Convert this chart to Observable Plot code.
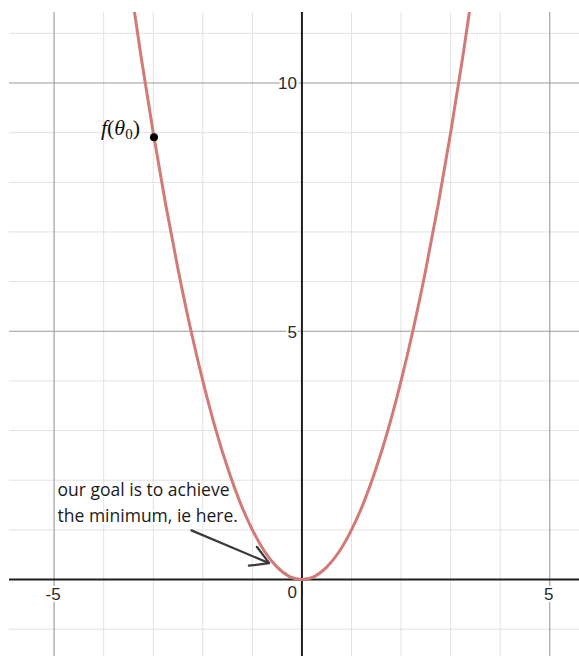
<!DOCTYPE html>
<html>
<head>
<meta charset="utf-8">
<script src="https://cdn.jsdelivr.net/npm/d3@7"></script>
<script src="https://cdn.jsdelivr.net/npm/@observablehq/plot@0.6"></script>
<style>
  html, body { margin: 0; padding: 0; background: #fff; }
  #chart svg { display: block; }
</style>
</head>
<body>
<div id="chart"></div>
<script>
// Cost curve f(theta) = theta^2, sampled points
const curveX = [-3.5, -3.25, -3, -2.75, -2.5, -2.25, -2, -1.75, -1.5, -1.25, -1, -0.75, -0.5, -0.25,
                0, 0.25, 0.5, 0.75, 1, 1.25, 1.5, 1.75, 2, 2.25, 2.5, 2.75, 3, 3.25, 3.5];
const curveY = [12.25, 10.56, 9, 7.56, 6.25, 5.06, 4, 3.06, 2.25, 1.56, 1, 0.56, 0.25, 0.06,
                0, 0.06, 0.25, 0.56, 1, 1.56, 2.25, 3.06, 4, 5.06, 6.25, 7.56, 9, 10.56, 12.25];

// Starting point theta_0 and its value
const startX = [-2.985];
const startY = [8.91];
const startLabel = ["f(θ₀)"];

// Grid lines
const minorX = [-5, -4, -3, -2, -1, 1, 2, 3, 4, 5];
const minorY = [-1, 1, 2, 3, 4, 6, 7, 8, 9, 11];
const majorX = [-5, 5];
const majorY = [5, 10];

// Tick labels
const xTickValues = [-5, 5];
const xTickLabels = ["-5", "5"];
const yTickValues = [5, 10];
const yTickLabels = ["5", "10"];
const originLabel = ["0"];

// Annotation text and its arrow
const noteLines = ["our goal is to achieve", "the minimum, ie here."];
const noteX = [-4.93, -4.93];
const noteY = [1.8, 1.28];
const arrowFrom = {x: -2.23, y: 0.99};
const arrowTo = {x: -0.66, y: 0.33};

const curve = curveX.map((x, i) => ({x, y: curveY[i]}));
const labelFont = "Liberation Sans, Arial, sans-serif";

const chart = Plot.plot({
  width: 579,
  height: 656,
  marginLeft: 9,
  marginTop: 12,
  marginRight: 0,
  marginBottom: 0,
  x: {domain: [-5.9, 5.6], axis: null},
  y: {domain: [-1.55, 11.42], axis: null},
  style: {background: "white", overflow: "visible"},
  marks: [
    Plot.ruleX(minorX, {stroke: "#e2e2e2", strokeWidth: 1}),
    Plot.ruleY(minorY, {stroke: "#e2e2e2", strokeWidth: 1}),
    Plot.ruleX(majorX, {stroke: "#9a9a9a", strokeWidth: 1}),
    Plot.ruleY(majorY, {stroke: "#9a9a9a", strokeWidth: 1}),
    Plot.ruleX([0], {stroke: "#1e1e1e", strokeWidth: 2}),
    Plot.ruleY([0], {stroke: "#1e1e1e", strokeWidth: 2}),
    Plot.line(curve, {x: "x", y: "y", curve: "natural", stroke: "#d27a76", strokeWidth: 3, clip: true}),
    // tick labels with white halo
    Plot.text(yTickValues, {
      x: () => 0, y: d => d, text: (d, i) => yTickLabels[i],
      textAnchor: "end", dx: -5, dy: 1,
      fontSize: 17, fontFamily: labelFont, fill: "#2a2a2a",
      stroke: "white", strokeWidth: 4
    }),
    Plot.text(xTickValues, {
      x: d => d, y: () => 0, text: (d, i) => xTickLabels[i],
      textAnchor: "middle", dx: -1, dy: 15,
      fontSize: 17, fontFamily: labelFont, fill: "#2a2a2a",
      stroke: "white", strokeWidth: 4
    }),
    Plot.text(originLabel, {
      x: () => 0, y: () => 0, text: d => d,
      textAnchor: "end", dx: -5, dy: 13,
      fontSize: 17, fontFamily: labelFont, fill: "#2a2a2a",
      stroke: "white", strokeWidth: 4
    }),
    // annotation
    Plot.text(noteLines, {
      x: (d, i) => noteX[i], y: (d, i) => noteY[i], text: d => d,
      textAnchor: "start", fontSize: 17.5, fontFamily: "Open Sans, sans-serif",
      fill: "#1a1a1a", stroke: "white", strokeWidth: 3
    }),
    Plot.arrow([arrowFrom], {
      x1: d => d.x, y1: d => d.y, x2: () => arrowTo.x, y2: () => arrowTo.y,
      stroke: "#3a3a3a", strokeWidth: 2.2, headLength: 14
    }),
    // starting point and its label
    Plot.dot(startX, {x: d => d, y: (d, i) => startY[i], r: 4, fill: "black", stroke: "none"}),
    Plot.text(startX, {
      x: d => d, y: (d, i) => startY[i], text: (d, i) => startLabel[i],
      textAnchor: "end", dx: -14, dy: -9,
      fontSize: 22, fontFamily: "Liberation Serif, serif", fill: "#111",
      className: "theta-label"
    })
  ]
});

// Typeset the f(θ₀) label with italic symbols and a subscript
const lbl = chart.querySelector(".theta-label text");
if (lbl) {
  lbl.textContent = "";
  const ns = "http://www.w3.org/2000/svg";
  const part = (txt, attrs) => {
    const t = document.createElementNS(ns, "tspan");
    t.textContent = txt;
    for (const k in attrs) t.setAttribute(k, attrs[k]);
    lbl.appendChild(t);
  };
  part("f", {"font-style": "italic"});
  part("(", {});
  part("θ", {"font-style": "italic"});
  part("0", {"font-size": 15, "dy": 4});
  part(")", {"dy": -4});
}

document.getElementById("chart").appendChild(chart);
</script>
</body>
</html>
